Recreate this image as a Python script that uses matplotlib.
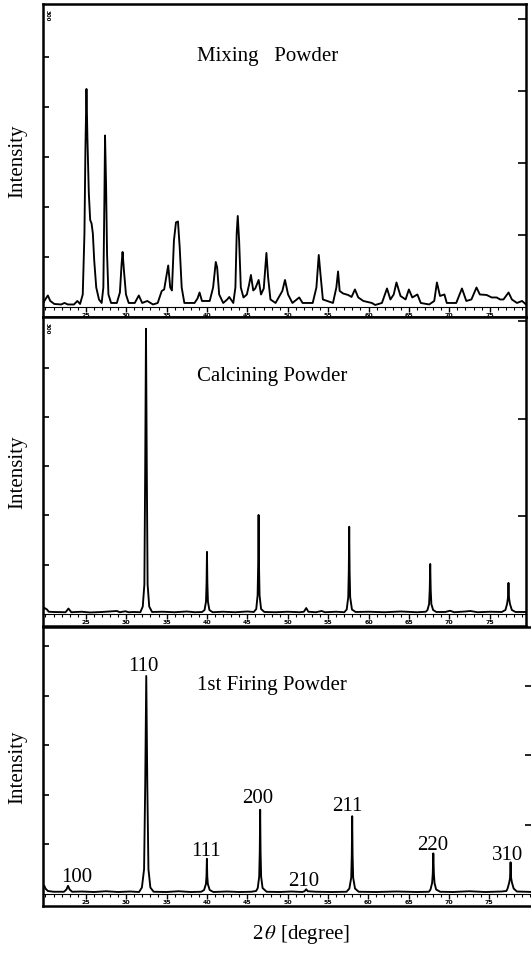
import matplotlib.pyplot as plt
from matplotlib.ticker import MultipleLocator

plt.rcParams["font.family"] = ["Liberation Serif", "DejaVu Serif"]
plt.rcParams["mathtext.fontset"] = "stix"

# ---- Mixing powder trace (2theta [deg], counts), digitised ----
mixing_2theta = [
    19.73, 19.98, 20.30, 20.60, 21.10, 21.95, 22.36, 22.78, 23.53, 23.95,
    24.29, 24.62, 24.83, 24.95, 25.08, 25.20, 25.37, 25.54, 25.71, 25.87,
    26.04, 26.29, 26.63, 26.96, 27.17, 27.30, 27.38, 27.51, 27.63, 27.80,
    28.13, 28.84, 29.22, 29.43, 29.55, 29.72, 29.97, 30.31, 31.06, 31.56,
    31.98, 32.61, 33.32, 33.90, 34.40, 34.70, 34.95, 35.20, 35.45, 35.66,
    35.91, 36.16, 36.41, 36.62, 36.87, 37.20, 38.46, 38.83, 39.08, 39.38,
    40.34, 40.76, 41.09, 41.26, 41.51, 42.01, 42.51, 42.76, 43.26, 43.52,
    43.68, 43.81, 43.98, 44.19, 44.52, 44.94, 45.23, 45.44, 45.73, 45.98,
    46.40, 46.69, 47.03, 47.36, 47.57, 47.86, 48.49, 49.33, 49.66, 50.04,
    50.58, 51.42, 51.84, 53.09, 53.55, 53.84, 54.05, 54.35, 55.60, 56.02,
    56.23, 56.43, 56.85, 57.48, 57.90, 58.32, 58.73, 59.36, 60.41, 60.83,
    61.66, 62.29, 62.71, 63.12, 63.46, 63.96, 64.59, 65.00, 65.42, 66.05,
    66.47, 67.51, 68.14, 68.47, 68.85, 69.40, 69.69, 70.86, 71.57, 72.11,
    72.74, 73.37, 73.78, 74.62, 75.25, 75.87, 76.29, 76.71, 77.34, 77.75,
    78.38, 79.01, 79.51,
]
mixing_counts = [
    80, 150, 230, 120, 60, 50, 80, 50, 50, 120,
    60, 250, 1470, 3160, 4360, 3360, 2280, 1740, 1670, 1470,
    930, 390, 150, 80, 390, 2150, 3430, 2420, 1060, 250,
    80, 80, 290, 860, 1100, 730, 250, 80, 80, 230,
    80, 120, 50, 80, 320, 350, 590, 830, 390, 330,
    1330, 1690, 1710, 1200, 390, 80, 80, 170, 290, 120,
    120, 390, 900, 790, 250, 80, 150, 200, 80, 390,
    1470, 1820, 1330, 390, 190, 250, 460, 640, 330, 370,
    540, 250, 370, 1080, 590, 150, 80, 320, 540, 250,
    80, 190, 80, 80, 390, 1040, 660, 150, 80, 390,
    710, 320, 270, 240, 200, 350, 190, 120, 80, 40,
    80, 370, 150, 250, 490, 220, 150, 350, 190, 250,
    80, 50, 120, 490, 220, 250, 80, 80, 370, 120,
    150, 390, 250, 240, 190, 190, 150, 150, 290, 150,
    80, 120, 50,
]

# ---- Calcining powder trace ----
calcining_2theta = [
    19.70, 19.80, 20.00, 20.20, 20.40, 21.00, 22.50, 22.85, 23.20, 24.50,
    25.50, 27.00, 28.85, 29.20, 29.90, 30.30, 31.00, 31.75,
    32.05, 32.25, 32.35, 32.45, 32.55, 32.65, 32.85, 33.20,
    34.50, 36.00, 37.50, 38.50, 39.40,
    39.70, 39.88, 39.95, 40.00, 40.05, 40.12, 40.30, 40.70,
    42.00, 43.50, 45.00, 45.80,
    46.10, 46.27, 46.34, 46.39, 46.44, 46.51, 46.70, 47.10,
    48.50, 50.00, 51.50, 52.00, 52.29, 52.55, 53.50, 54.20, 54.60, 56.00, 57.00,
    57.30, 57.49, 57.56, 57.61, 57.66, 57.73, 57.95, 58.40,
    60.00, 62.00, 64.00, 66.00, 67.10,
    67.30, 67.50, 67.58, 67.64, 67.70, 67.78, 68.00, 68.40,
    69.50, 70.10, 70.60, 72.00, 72.60, 73.50, 75.00, 76.50,
    76.95, 77.15, 77.26, 77.33, 77.40, 77.52, 77.75, 78.20, 79.50,
]
calcining_counts = [
    60, 130, 110, 90, 45, 40, 35, 110, 35, 45,
    30, 40, 60, 35, 55, 35, 40, 35,
    150, 600, 2900, 5790, 2900, 600, 150, 40,
    45, 35, 50, 35, 40,
    80, 250, 630, 1260, 630, 250, 80, 35,
    45, 35, 50, 40,
    100, 380, 1000, 2010, 1000, 380, 100, 40,
    35, 45, 35, 45, 120, 45, 35, 60, 35, 45, 35,
    90, 340, 880, 1770, 880, 340, 90, 40,
    45, 35, 50, 35, 45,
    80, 200, 500, 1015, 500, 200, 80, 40,
    40, 65, 35, 50, 60, 35, 45, 40,
    80, 200, 320, 630, 320, 200, 80, 40, 40,
]

# ---- 1st firing powder trace ----
firing_2theta = [
    19.70, 19.85, 20.00, 20.30, 21.00, 22.30, 22.60, 22.80, 23.00, 23.30,
    24.50, 26.00, 27.50, 29.00, 30.50, 31.60,
    31.95, 32.22, 32.36, 32.49, 32.62, 32.76, 33.00, 33.40,
    35.00, 36.50, 38.00, 39.30,
    39.65, 39.88, 39.95, 40.00, 40.05, 40.12, 40.35, 40.80,
    42.50, 44.00, 45.50, 46.10,
    46.30, 46.48, 46.55, 46.60, 46.65, 46.72, 46.90, 47.40,
    49.00, 50.50, 51.80, 52.10, 52.30, 52.50, 53.50, 55.50, 57.30,
    57.65, 57.88, 57.95, 58.00, 58.05, 58.12, 58.35, 58.80,
    61.00, 63.50, 66.00, 67.50,
    67.70, 67.90, 67.98, 68.05, 68.12, 68.20, 68.40, 68.90,
    70.50, 72.50, 74.50, 76.50, 77.10,
    77.25, 77.45, 77.55, 77.62, 77.69, 77.79, 78.00, 78.40, 79.50, 80.40,
]
firing_counts = [
    160, 170, 110, 60, 45, 45, 90, 165, 90, 45,
    50, 40, 55, 40, 50, 40,
    130, 500, 2200, 4400, 2200, 500, 130, 45,
    40, 55, 40, 45,
    80, 200, 350, 710, 350, 200, 80, 40,
    50, 40, 45, 60,
    120, 350, 850, 1700, 850, 350, 120, 45,
    40, 50, 40, 55, 95, 55, 45, 40, 45,
    110, 330, 790, 1570, 790, 330, 110, 45,
    40, 50, 40, 45,
    90, 220, 410, 820, 410, 220, 90, 45,
    40, 55, 40, 50, 60,
    110, 230, 320, 640, 320, 230, 110, 50, 45, 40,
]

# Miller indices written above the 1st firing peaks
hkl_labels = ["100", "110", "111", "200", "210", "211", "220", "310"]
hkl_2theta = [23.82, 32.12, 39.91, 46.35, 52.04, 57.36, 68.00, 77.30]
hkl_counts = [257, 4520, 782, 1852, 176, 1691, 903, 701]

titles = ["Mixing   Powder", "Calcining Powder", "1st Firing Powder"]
ruler_labels = list(range(25, 80, 5))

fig = plt.figure(figsize=(5.31, 9.54), dpi=100)

panels = [
    # rect, xmax, ylim, right tick step, title position
    ([0.081, 0.6667, 0.9096, 0.3281], 79.5, (-200, 6060), 1440, (0.465, 0.834)),
    ([0.081, 0.3428, 0.9096, 0.3239], 79.5, (-244, 6030), 1980, (0.475, 0.812)),
    ([0.081, 0.0493, 0.9228, 0.2925], 80.4, (-242, 5390), 1400, (0.468, 0.792)),
]
traces = [
    (mixing_2theta, mixing_counts),
    (calcining_2theta, calcining_counts),
    (firing_2theta, firing_counts),
]

axes = []
for i, (rect, xmax, ylim, rstep, tpos) in enumerate(panels):
    ax = fig.add_axes(rect)
    x, y = traces[i]
    ax.plot(x, y, color="black", lw=1.35)
    ax.set_xlim(19.7, xmax)
    ax.set_ylim(*ylim)

    for side in ["left", "right", "top", "bottom"]:
        ax.spines[side].set_linewidth(1.8)
    ax.spines["right"].set_visible(False)
    ax.set_xticks([])
    ax.set_yticks(range(1000, 6000, 1000))
    ax.tick_params(axis="y", direction="in", length=4, width=1.2, labelleft=False)
    ax.set_ylabel("Intensity", fontsize=15, labelpad=11)

    # right-hand scale
    rax = ax.secondary_yaxis("right")
    rax.set_yticks([rstep * k for k in range(1, 5) if rstep * k < ylim[1]])
    rax.tick_params(direction="in", length=6, width=1.2, labelright=False)
    rax.spines["right"].set_linewidth(1.8)

    # degree ruler strip along the bottom
    loc = -ylim[0] / (ylim[1] - ylim[0])
    ruler = ax.secondary_xaxis(loc)
    ruler.set_xticks(ruler_labels, labels=[str(v) for v in ruler_labels],
                     fontsize=4.5, fontweight="bold", family="DejaVu Sans")
    ruler.xaxis.set_minor_locator(MultipleLocator(1))
    ruler.tick_params(which="major", direction="out", length=3.5, width=1.0, pad=0.2)
    ruler.tick_params(which="minor", direction="out", length=2.2, width=0.8)
    ruler.spines["bottom"].set_linewidth(0.8)

    ax.text(tpos[0], tpos[1], titles[i], transform=ax.transAxes,
            ha="center", va="center", fontsize=15)
    axes.append(ax)

# tiny scale marks at the top-left of the first two panels
for ax in axes[:2]:
    ax.text(0.004, 0.985, "300", transform=ax.transAxes, rotation=-90,
            fontsize=4, fontweight="bold", family="DejaVu Sans", ha="left", va="top")

for lab, tx, ty in zip(hkl_labels, hkl_2theta, hkl_counts):
    axes[2].text(tx, ty, lab, ha="center", va="baseline", fontsize=15)

fig.text(301 / 531, 1 - 935 / 954, r"2$\,\theta$ [degree]", ha="center",
         va="center", fontsize=15)

fig.savefig("out.png", dpi=100)
